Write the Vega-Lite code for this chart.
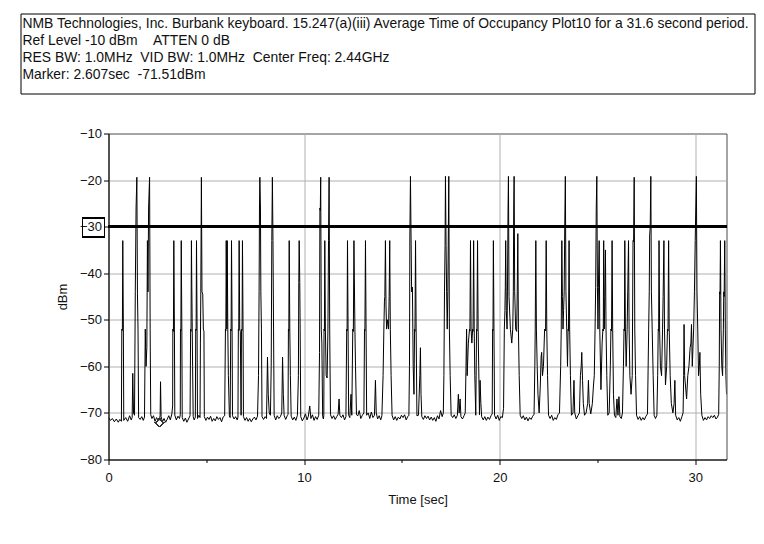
{
 "$schema": "https://vega.github.io/schema/vega-lite/v6.json",
 "background": "white",
 "padding": {"left": 19.5, "top": 12.5, "right": 0, "bottom": 0},
 "config": {
  "font": "Liberation Sans",
  "view": {"stroke": null},
  "axis": {"labelFont": "Liberation Sans", "titleFont": "Liberation Sans", "labelFontSize": 13, "titleFontSize": 13, "titleFontWeight": "normal", "labelColor": "#111", "titleColor": "#111", "domainColor": "#000", "tickColor": "#000", "gridColor": "#b0b0b0", "gridWidth": 1}
 },
 "vconcat": [
  {
   "width": 734,
   "height": 80,
   "view": {"stroke": "black", "strokeWidth": 1},
   "data": {"values": [
    {"line": 1, "text": "NMB Technologies, Inc. Burbank keyboard. 15.247(a)(iii) Average Time of Occupancy Plot10 for a 31.6 second period."},
    {"line": 2, "text": "Ref Level -10 dBm\u00a0\u00a0\u00a0\u00a0ATTEN 0 dB"},
    {"line": 3, "text": "RES BW: 1.0MHz\u00a0\u00a0VID BW: 1.0MHz\u00a0\u00a0Center Freq: 2.44GHz"},
    {"line": 4, "text": "Marker: 2.607sec\u00a0\u00a0-71.51dBm"}
   ]},
   "mark": {"type": "text", "align": "left", "baseline": "middle", "fontSize": 13.9, "color": "#111", "dx": 2},
   "encoding": {
    "x": {"datum": 0, "type": "quantitative", "scale": {"domain": [0, 1]}, "axis": null},
    "y": {"field": "line", "type": "quantitative", "scale": {"domain": [0.382, 5.088], "reverse": true, "nice": false, "zero": false}, "axis": null},
    "text": {"field": "text"}
   }
  },
  {
   "hconcat": [
    {
     "width": 20,
     "height": 1,
     "data": {"values": []},
     "mark": "point"
    },
    {
   "width": 618,
   "height": 326,
   "view": {"stroke": "#4a4a4a", "strokeWidth": 1},
   "data": {"values": [
{"t":0.00,"v":-71.0},{"t":0.10,"v":-71.6},{"t":0.20,"v":-71.2},{"t":0.30,"v":-71.9},{"t":0.40,"v":-71.3},{"t":0.50,"v":-72.0},{"t":0.58,"v":-71.4},{"t":0.66,"v":-71.8},{"t":0.68,"v":-52.0},{"t":0.71,"v":-52.3},{"t":0.73,"v":-33.0},{"t":0.76,"v":-52.0},{"t":0.78,"v":-71.6},{"t":0.88,"v":-71.0},{"t":0.98,"v":-71.8},{"t":1.08,"v":-70.6},{"t":1.16,"v":-71.5},{"t":1.21,"v":-71.0},{"t":1.24,"v":-61.5},{"t":1.28,"v":-70.0},{"t":1.33,"v":-70.5},{"t":1.37,"v":-44.0},{"t":1.41,"v":-26.0},{"t":1.45,"v":-19.4},{"t":1.48,"v":-44.3},{"t":1.51,"v":-52.0},{"t":1.54,"v":-71.0},{"t":1.62,"v":-71.4},{"t":1.70,"v":-70.8},{"t":1.78,"v":-71.6},{"t":1.84,"v":-70.9},{"t":1.88,"v":-52.0},{"t":1.92,"v":-60.0},{"t":1.96,"v":-56.0},{"t":1.99,"v":-33.0},{"t":2.02,"v":-44.0},{"t":2.05,"v":-26.0},{"t":2.10,"v":-19.4},{"t":2.13,"v":-52.0},{"t":2.16,"v":-70.4},{"t":2.22,"v":-71.2},{"t":2.30,"v":-70.6},{"t":2.38,"v":-71.8},{"t":2.46,"v":-71.0},{"t":2.54,"v":-71.6},{"t":2.607,"v":-71.51},{"t":2.64,"v":-70.5},{"t":2.66,"v":-63.3},{"t":2.69,"v":-70.8},{"t":2.76,"v":-71.9},{"t":2.84,"v":-71.2},{"t":2.92,"v":-72.0},{"t":3.00,"v":-71.4},{"t":3.08,"v":-70.6},{"t":3.16,"v":-71.5},{"t":3.24,"v":-70.2},{"t":3.28,"v":-68.5},{"t":3.29,"v":-52.0},{"t":3.32,"v":-52.5},{"t":3.34,"v":-33.0},{"t":3.37,"v":-52.0},{"t":3.39,"v":-70.5},{"t":3.47,"v":-71.5},{"t":3.55,"v":-70.7},{"t":3.63,"v":-71.2},{"t":3.67,"v":-70.4},{"t":3.68,"v":-52.0},{"t":3.70,"v":-52.4},{"t":3.72,"v":-33.0},{"t":3.75,"v":-52.0},{"t":3.77,"v":-71.0},{"t":3.85,"v":-71.8},{"t":3.93,"v":-71.1},{"t":4.01,"v":-72.0},{"t":4.09,"v":-71.3},{"t":4.17,"v":-70.6},{"t":4.20,"v":-52.0},{"t":4.22,"v":-52.5},{"t":4.24,"v":-33.0},{"t":4.26,"v":-43.0},{"t":4.30,"v":-60.0},{"t":4.33,"v":-70.8},{"t":4.38,"v":-71.5},{"t":4.44,"v":-70.9},{"t":4.46,"v":-52.0},{"t":4.48,"v":-52.3},{"t":4.50,"v":-33.0},{"t":4.53,"v":-52.0},{"t":4.55,"v":-71.2},{"t":4.62,"v":-70.5},{"t":4.68,"v":-71.0},{"t":4.70,"v":-55.0},{"t":4.72,"v":-44.0},{"t":4.75,"v":-19.4},{"t":4.78,"v":-44.0},{"t":4.82,"v":-44.5},{"t":4.85,"v":-52.0},{"t":4.88,"v":-52.5},{"t":4.90,"v":-70.8},{"t":4.98,"v":-71.6},{"t":5.06,"v":-70.9},{"t":5.14,"v":-71.4},{"t":5.22,"v":-70.7},{"t":5.30,"v":-71.8},{"t":5.38,"v":-71.2},{"t":5.46,"v":-71.7},{"t":5.54,"v":-70.8},{"t":5.62,"v":-71.4},{"t":5.70,"v":-71.0},{"t":5.78,"v":-71.9},{"t":5.86,"v":-70.9},{"t":5.94,"v":-70.6},{"t":5.98,"v":-52.0},{"t":6.00,"v":-52.4},{"t":6.02,"v":-33.0},{"t":6.05,"v":-52.0},{"t":6.07,"v":-33.0},{"t":6.10,"v":-52.0},{"t":6.13,"v":-62.0},{"t":6.18,"v":-70.6},{"t":6.22,"v":-71.0},{"t":6.25,"v":-52.0},{"t":6.27,"v":-52.4},{"t":6.29,"v":-33.0},{"t":6.32,"v":-52.0},{"t":6.34,"v":-70.6},{"t":6.42,"v":-71.3},{"t":6.50,"v":-70.8},{"t":6.58,"v":-71.5},{"t":6.62,"v":-70.9},{"t":6.64,"v":-52.0},{"t":6.66,"v":-52.3},{"t":6.68,"v":-33.0},{"t":6.71,"v":-52.0},{"t":6.74,"v":-52.5},{"t":6.78,"v":-70.5},{"t":6.80,"v":-52.0},{"t":6.83,"v":-52.3},{"t":6.85,"v":-33.0},{"t":6.88,"v":-52.0},{"t":6.90,"v":-70.8},{"t":6.98,"v":-71.6},{"t":7.06,"v":-71.0},{"t":7.14,"v":-71.8},{"t":7.22,"v":-71.2},{"t":7.30,"v":-71.9},{"t":7.38,"v":-71.3},{"t":7.46,"v":-70.9},{"t":7.54,"v":-71.5},{"t":7.62,"v":-70.7},{"t":7.67,"v":-62.0},{"t":7.70,"v":-44.0},{"t":7.72,"v":-26.0},{"t":7.74,"v":-19.4},{"t":7.77,"v":-26.0},{"t":7.79,"v":-44.0},{"t":7.82,"v":-52.0},{"t":7.85,"v":-70.8},{"t":7.93,"v":-71.4},{"t":8.01,"v":-70.8},{"t":8.08,"v":-71.2},{"t":8.13,"v":-58.0},{"t":8.17,"v":-66.0},{"t":8.22,"v":-70.0},{"t":8.28,"v":-70.5},{"t":8.32,"v":-60.0},{"t":8.35,"v":-33.0},{"t":8.38,"v":-19.4},{"t":8.41,"v":-33.0},{"t":8.44,"v":-52.0},{"t":8.47,"v":-70.5},{"t":8.55,"v":-71.5},{"t":8.63,"v":-70.6},{"t":8.71,"v":-71.2},{"t":8.79,"v":-70.8},{"t":8.86,"v":-70.0},{"t":8.90,"v":-58.0},{"t":8.94,"v":-66.0},{"t":8.98,"v":-70.5},{"t":9.06,"v":-71.4},{"t":9.14,"v":-70.6},{"t":9.18,"v":-70.3},{"t":9.20,"v":-52.0},{"t":9.22,"v":-52.4},{"t":9.24,"v":-33.0},{"t":9.27,"v":-52.0},{"t":9.30,"v":-62.0},{"t":9.34,"v":-70.7},{"t":9.42,"v":-71.5},{"t":9.50,"v":-70.9},{"t":9.58,"v":-71.6},{"t":9.66,"v":-70.5},{"t":9.71,"v":-62.0},{"t":9.73,"v":-42.0},{"t":9.75,"v":-33.0},{"t":9.78,"v":-42.0},{"t":9.80,"v":-52.0},{"t":9.83,"v":-70.8},{"t":9.91,"v":-71.7},{"t":9.99,"v":-71.1},{"t":10.07,"v":-70.2},{"t":10.15,"v":-71.5},{"t":10.22,"v":-70.7},{"t":10.29,"v":-68.5},{"t":10.35,"v":-71.2},{"t":10.43,"v":-70.4},{"t":10.51,"v":-71.6},{"t":10.59,"v":-70.8},{"t":10.67,"v":-71.4},{"t":10.75,"v":-70.5},{"t":10.79,"v":-57.0},{"t":10.81,"v":-26.0},{"t":10.83,"v":-26.5},{"t":10.85,"v":-19.4},{"t":10.88,"v":-52.0},{"t":10.91,"v":-55.0},{"t":10.95,"v":-70.8},{"t":10.99,"v":-71.3},{"t":11.01,"v":-70.5},{"t":11.02,"v":-52.0},{"t":11.04,"v":-52.4},{"t":11.06,"v":-33.0},{"t":11.09,"v":-52.0},{"t":11.13,"v":-62.0},{"t":11.18,"v":-62.5},{"t":11.22,"v":-52.0},{"t":11.25,"v":-33.0},{"t":11.28,"v":-19.4},{"t":11.31,"v":-52.0},{"t":11.35,"v":-70.4},{"t":11.43,"v":-71.2},{"t":11.51,"v":-70.6},{"t":11.59,"v":-71.4},{"t":11.67,"v":-70.8},{"t":11.74,"v":-70.3},{"t":11.79,"v":-67.0},{"t":11.83,"v":-70.5},{"t":11.91,"v":-71.0},{"t":11.99,"v":-70.4},{"t":12.07,"v":-71.5},{"t":12.14,"v":-70.8},{"t":12.18,"v":-52.0},{"t":12.20,"v":-52.4},{"t":12.22,"v":-33.0},{"t":12.25,"v":-52.0},{"t":12.28,"v":-70.5},{"t":12.34,"v":-71.0},{"t":12.40,"v":-66.0},{"t":12.44,"v":-70.5},{"t":12.49,"v":-52.0},{"t":12.52,"v":-52.5},{"t":12.55,"v":-33.0},{"t":12.60,"v":-52.0},{"t":12.63,"v":-60.0},{"t":12.68,"v":-70.4},{"t":12.75,"v":-70.6},{"t":12.82,"v":-69.5},{"t":12.90,"v":-71.2},{"t":12.98,"v":-70.5},{"t":13.06,"v":-70.0},{"t":13.09,"v":-52.0},{"t":13.11,"v":-52.4},{"t":13.14,"v":-33.0},{"t":13.17,"v":-52.0},{"t":13.20,"v":-70.5},{"t":13.28,"v":-70.0},{"t":13.36,"v":-71.2},{"t":13.44,"v":-69.8},{"t":13.52,"v":-71.0},{"t":13.60,"v":-70.5},{"t":13.65,"v":-63.0},{"t":13.69,"v":-70.0},{"t":13.76,"v":-71.3},{"t":13.84,"v":-70.6},{"t":13.92,"v":-71.5},{"t":13.98,"v":-70.6},{"t":14.04,"v":-62.0},{"t":14.08,"v":-52.0},{"t":14.11,"v":-46.0},{"t":14.13,"v":-45.0},{"t":14.16,"v":-33.0},{"t":14.19,"v":-47.0},{"t":14.22,"v":-52.0},{"t":14.27,"v":-50.0},{"t":14.32,"v":-52.0},{"t":14.35,"v":-45.0},{"t":14.38,"v":-33.0},{"t":14.41,"v":-52.0},{"t":14.45,"v":-62.0},{"t":14.50,"v":-70.5},{"t":14.58,"v":-71.5},{"t":14.66,"v":-70.8},{"t":14.74,"v":-71.6},{"t":14.82,"v":-70.9},{"t":14.90,"v":-71.3},{"t":14.98,"v":-70.5},{"t":15.06,"v":-71.0},{"t":15.14,"v":-70.4},{"t":15.22,"v":-71.5},{"t":15.30,"v":-70.8},{"t":15.36,"v":-70.5},{"t":15.39,"v":-60.0},{"t":15.41,"v":-32.0},{"t":15.44,"v":-19.2},{"t":15.47,"v":-32.0},{"t":15.50,"v":-44.0},{"t":15.54,"v":-43.0},{"t":15.58,"v":-60.0},{"t":15.62,"v":-66.0},{"t":15.65,"v":-52.0},{"t":15.67,"v":-52.5},{"t":15.70,"v":-33.0},{"t":15.73,"v":-52.0},{"t":15.77,"v":-70.6},{"t":15.85,"v":-70.5},{"t":15.92,"v":-62.0},{"t":15.95,"v":-56.0},{"t":15.98,"v":-66.0},{"t":16.02,"v":-70.8},{"t":16.10,"v":-71.4},{"t":16.18,"v":-70.6},{"t":16.26,"v":-71.2},{"t":16.34,"v":-70.7},{"t":16.42,"v":-71.5},{"t":16.50,"v":-70.9},{"t":16.58,"v":-71.6},{"t":16.66,"v":-71.0},{"t":16.74,"v":-71.8},{"t":16.82,"v":-70.6},{"t":16.90,"v":-71.3},{"t":16.98,"v":-69.5},{"t":17.06,"v":-70.8},{"t":17.12,"v":-70.0},{"t":17.15,"v":-62.0},{"t":17.18,"v":-44.0},{"t":17.21,"v":-34.0},{"t":17.23,"v":-19.2},{"t":17.26,"v":-34.0},{"t":17.29,"v":-44.0},{"t":17.32,"v":-52.0},{"t":17.35,"v":-44.0},{"t":17.38,"v":-30.0},{"t":17.40,"v":-19.2},{"t":17.43,"v":-52.0},{"t":17.47,"v":-62.0},{"t":17.52,"v":-70.5},{"t":17.60,"v":-71.0},{"t":17.68,"v":-70.4},{"t":17.76,"v":-71.2},{"t":17.84,"v":-70.5},{"t":17.89,"v":-66.0},{"t":17.93,"v":-70.0},{"t":17.98,"v":-67.0},{"t":18.02,"v":-70.8},{"t":18.10,"v":-71.3},{"t":18.18,"v":-70.6},{"t":18.24,"v":-70.0},{"t":18.28,"v":-60.0},{"t":18.31,"v":-52.0},{"t":18.34,"v":-62.0},{"t":18.40,"v":-55.0},{"t":18.46,"v":-52.0},{"t":18.48,"v":-52.4},{"t":18.51,"v":-33.0},{"t":18.54,"v":-52.0},{"t":18.58,"v":-55.0},{"t":18.62,"v":-52.0},{"t":18.64,"v":-52.5},{"t":18.67,"v":-33.0},{"t":18.70,"v":-52.0},{"t":18.73,"v":-62.0},{"t":18.78,"v":-70.5},{"t":18.82,"v":-52.0},{"t":18.84,"v":-52.4},{"t":18.87,"v":-33.0},{"t":18.90,"v":-52.0},{"t":18.93,"v":-60.0},{"t":18.97,"v":-70.4},{"t":19.00,"v":-63.0},{"t":19.04,"v":-68.0},{"t":19.08,"v":-70.8},{"t":19.16,"v":-71.5},{"t":19.24,"v":-70.8},{"t":19.32,"v":-71.6},{"t":19.40,"v":-70.9},{"t":19.48,"v":-71.4},{"t":19.56,"v":-70.6},{"t":19.62,"v":-70.2},{"t":19.64,"v":-52.0},{"t":19.66,"v":-52.4},{"t":19.68,"v":-33.0},{"t":19.71,"v":-52.0},{"t":19.74,"v":-70.5},{"t":19.82,"v":-71.3},{"t":19.90,"v":-70.5},{"t":19.98,"v":-71.6},{"t":20.06,"v":-70.8},{"t":20.14,"v":-71.0},{"t":20.20,"v":-69.0},{"t":20.24,"v":-52.0},{"t":20.27,"v":-48.0},{"t":20.29,"v":-43.0},{"t":20.31,"v":-33.0},{"t":20.34,"v":-48.0},{"t":20.38,"v":-52.0},{"t":20.40,"v":-44.0},{"t":20.43,"v":-26.0},{"t":20.45,"v":-19.2},{"t":20.48,"v":-45.0},{"t":20.55,"v":-52.0},{"t":20.62,"v":-55.0},{"t":20.67,"v":-52.0},{"t":20.70,"v":-44.0},{"t":20.72,"v":-26.0},{"t":20.74,"v":-19.2},{"t":20.77,"v":-44.0},{"t":20.82,"v":-52.0},{"t":20.87,"v":-52.5},{"t":20.90,"v":-44.0},{"t":20.93,"v":-31.5},{"t":20.96,"v":-52.0},{"t":21.00,"v":-62.0},{"t":21.05,"v":-70.5},{"t":21.13,"v":-71.2},{"t":21.21,"v":-70.6},{"t":21.29,"v":-71.5},{"t":21.37,"v":-70.9},{"t":21.45,"v":-71.7},{"t":21.53,"v":-71.0},{"t":21.61,"v":-71.4},{"t":21.69,"v":-70.7},{"t":21.76,"v":-70.3},{"t":21.80,"v":-60.0},{"t":21.82,"v":-52.0},{"t":21.85,"v":-33.0},{"t":21.88,"v":-52.0},{"t":21.92,"v":-60.0},{"t":21.96,"v":-66.0},{"t":22.02,"v":-70.0},{"t":22.08,"v":-64.0},{"t":22.12,"v":-58.0},{"t":22.15,"v":-57.0},{"t":22.19,"v":-62.0},{"t":22.24,"v":-60.0},{"t":22.30,"v":-52.0},{"t":22.35,"v":-52.4},{"t":22.38,"v":-33.0},{"t":22.41,"v":-52.0},{"t":22.45,"v":-62.0},{"t":22.50,"v":-70.5},{"t":22.58,"v":-71.2},{"t":22.66,"v":-70.5},{"t":22.74,"v":-71.6},{"t":22.82,"v":-71.0},{"t":22.90,"v":-71.4},{"t":22.98,"v":-70.4},{"t":23.06,"v":-70.0},{"t":23.12,"v":-60.0},{"t":23.15,"v":-52.0},{"t":23.18,"v":-33.0},{"t":23.21,"v":-45.0},{"t":23.24,"v":-52.0},{"t":23.27,"v":-48.0},{"t":23.30,"v":-44.0},{"t":23.33,"v":-30.0},{"t":23.36,"v":-19.2},{"t":23.39,"v":-44.0},{"t":23.43,"v":-52.0},{"t":23.47,"v":-60.0},{"t":23.50,"v":-52.0},{"t":23.52,"v":-52.4},{"t":23.55,"v":-33.0},{"t":23.58,"v":-52.0},{"t":23.62,"v":-62.0},{"t":23.67,"v":-70.5},{"t":23.75,"v":-70.0},{"t":23.80,"v":-63.0},{"t":23.84,"v":-70.0},{"t":23.92,"v":-71.3},{"t":24.00,"v":-70.6},{"t":24.08,"v":-70.0},{"t":24.13,"v":-62.0},{"t":24.17,"v":-60.0},{"t":24.20,"v":-57.0},{"t":24.24,"v":-63.0},{"t":24.28,"v":-68.0},{"t":24.34,"v":-70.5},{"t":24.42,"v":-70.0},{"t":24.50,"v":-68.0},{"t":24.54,"v":-63.0},{"t":24.58,"v":-68.0},{"t":24.66,"v":-70.2},{"t":24.74,"v":-68.0},{"t":24.80,"v":-64.0},{"t":24.84,"v":-62.0},{"t":24.88,"v":-52.0},{"t":24.91,"v":-43.0},{"t":24.94,"v":-26.0},{"t":24.97,"v":-19.2},{"t":25.00,"v":-43.0},{"t":25.03,"v":-52.0},{"t":25.05,"v":-43.0},{"t":25.09,"v":-33.0},{"t":25.12,"v":-52.0},{"t":25.18,"v":-65.0},{"t":25.24,"v":-55.0},{"t":25.28,"v":-52.0},{"t":25.30,"v":-52.4},{"t":25.32,"v":-33.0},{"t":25.35,"v":-52.0},{"t":25.38,"v":-45.0},{"t":25.41,"v":-35.0},{"t":25.44,"v":-52.0},{"t":25.48,"v":-62.0},{"t":25.53,"v":-70.5},{"t":25.60,"v":-70.0},{"t":25.66,"v":-60.0},{"t":25.69,"v":-52.0},{"t":25.72,"v":-52.4},{"t":25.75,"v":-33.0},{"t":25.78,"v":-52.0},{"t":25.82,"v":-66.0},{"t":25.87,"v":-70.5},{"t":25.94,"v":-71.0},{"t":26.00,"v":-67.0},{"t":26.05,"v":-70.5},{"t":26.10,"v":-66.5},{"t":26.15,"v":-70.8},{"t":26.22,"v":-71.2},{"t":26.28,"v":-70.0},{"t":26.33,"v":-60.0},{"t":26.36,"v":-52.0},{"t":26.38,"v":-52.4},{"t":26.40,"v":-33.0},{"t":26.43,"v":-52.0},{"t":26.47,"v":-60.0},{"t":26.52,"v":-52.0},{"t":26.55,"v":-44.0},{"t":26.59,"v":-33.0},{"t":26.62,"v":-52.0},{"t":26.66,"v":-62.0},{"t":26.72,"v":-66.0},{"t":26.78,"v":-62.0},{"t":26.82,"v":-33.0},{"t":26.85,"v":-33.2},{"t":26.88,"v":-19.4},{"t":26.91,"v":-52.0},{"t":26.95,"v":-62.0},{"t":27.00,"v":-70.5},{"t":27.08,"v":-71.4},{"t":27.16,"v":-70.8},{"t":27.24,"v":-71.6},{"t":27.32,"v":-71.0},{"t":27.40,"v":-71.5},{"t":27.48,"v":-70.7},{"t":27.56,"v":-70.2},{"t":27.62,"v":-52.0},{"t":27.65,"v":-44.0},{"t":27.67,"v":-32.0},{"t":27.70,"v":-30.0},{"t":27.73,"v":-19.2},{"t":27.76,"v":-44.0},{"t":27.80,"v":-52.0},{"t":27.85,"v":-62.0},{"t":27.90,"v":-70.5},{"t":27.97,"v":-71.2},{"t":28.04,"v":-70.5},{"t":28.08,"v":-62.0},{"t":28.11,"v":-52.0},{"t":28.13,"v":-52.4},{"t":28.15,"v":-33.0},{"t":28.18,"v":-52.0},{"t":28.22,"v":-60.0},{"t":28.28,"v":-62.0},{"t":28.33,"v":-52.0},{"t":28.36,"v":-45.0},{"t":28.40,"v":-33.0},{"t":28.43,"v":-52.0},{"t":28.48,"v":-64.0},{"t":28.54,"v":-60.0},{"t":28.58,"v":-52.0},{"t":28.61,"v":-52.4},{"t":28.64,"v":-33.0},{"t":28.67,"v":-52.0},{"t":28.72,"v":-62.0},{"t":28.78,"v":-68.0},{"t":28.86,"v":-70.0},{"t":28.92,"v":-68.0},{"t":28.96,"v":-63.0},{"t":29.00,"v":-70.5},{"t":29.08,"v":-71.5},{"t":29.16,"v":-71.0},{"t":29.24,"v":-71.8},{"t":29.32,"v":-70.8},{"t":29.38,"v":-70.0},{"t":29.41,"v":-62.0},{"t":29.43,"v":-51.0},{"t":29.46,"v":-62.0},{"t":29.50,"v":-64.0},{"t":29.56,"v":-67.0},{"t":29.62,"v":-62.0},{"t":29.68,"v":-60.0},{"t":29.74,"v":-56.0},{"t":29.78,"v":-55.0},{"t":29.81,"v":-51.0},{"t":29.85,"v":-60.0},{"t":29.92,"v":-52.0},{"t":29.96,"v":-44.0},{"t":30.00,"v":-33.0},{"t":30.03,"v":-26.0},{"t":30.06,"v":-19.2},{"t":30.09,"v":-44.0},{"t":30.13,"v":-52.0},{"t":30.17,"v":-62.0},{"t":30.21,"v":-60.0},{"t":30.24,"v":-57.0},{"t":30.28,"v":-66.0},{"t":30.34,"v":-70.5},{"t":30.42,"v":-71.6},{"t":30.50,"v":-71.0},{"t":30.58,"v":-71.5},{"t":30.66,"v":-70.8},{"t":30.74,"v":-71.2},{"t":30.82,"v":-70.6},{"t":30.90,"v":-71.0},{"t":30.98,"v":-70.5},{"t":31.06,"v":-71.3},{"t":31.14,"v":-70.9},{"t":31.20,"v":-70.3},{"t":31.23,"v":-60.0},{"t":31.25,"v":-44.0},{"t":31.27,"v":-44.5},{"t":31.29,"v":-33.0},{"t":31.32,"v":-52.0},{"t":31.36,"v":-60.0},{"t":31.40,"v":-62.0},{"t":31.44,"v":-52.0},{"t":31.46,"v":-44.0},{"t":31.48,"v":-45.0},{"t":31.51,"v":-33.0},{"t":31.54,"v":-52.0},{"t":31.57,"v":-62.0},{"t":31.60,"v":-66.0}
   ]},
   "layer": [
    {
     "mark": {"type": "line", "color": "black", "strokeWidth": 1, "clip": true},
     "encoding": {
      "x": {"field": "t", "type": "quantitative", "scale": {"domain": [0, 31.6], "nice": false, "zero": false},
       "axis": {"title": "Time [sec]", "values": [0, 5, 10, 15, 20, 25, 30], "labelExpr": "datum.value % 10 === 0 ? datum.label : ''", "labelFlush": false, "labelPadding": 7, "titlePadding": 9,
        "grid": true, "gridOpacity": {"condition": {"test": "datum.value % 10 === 0 && datum.value > 0", "value": 1}, "value": 0},
        "tickSize": {"condition": {"test": "datum.value % 10 === 0", "value": 5}, "value": 3}}},
      "y": {"field": "v", "type": "quantitative", "scale": {"domain": [-80, -10], "nice": false, "zero": false},
       "axis": {"title": "dBm", "titlePadding": 10, "values": [-80, -75, -70, -65, -60, -55, -50, -45, -40, -35, -30, -25, -20, -15, -10], "labelExpr": "datum.value % 10 === 0 ? datum.label : ''", "labelPadding": 2,
        "grid": true, "gridOpacity": {"condition": {"test": "datum.value % 10 === 0 && datum.value > -80 && datum.value < -10", "value": 1}, "value": 0},
        "tickSize": {"condition": {"test": "datum.value % 10 === 0", "value": 5}, "value": 3}}}
     }
    },
    {
     "mark": {"type": "rule", "color": "black", "strokeWidth": 2.5},
     "encoding": {"y": {"datum": -30}}
    },
    {
     "mark": {"type": "point", "shape": "diamond", "filled": false, "color": "#333", "size": 64, "strokeWidth": 1, "yOffset": 3},
     "encoding": {"x": {"datum": 2.607}, "y": {"datum": -71.51}}
    },
    {
     "mark": {"type": "point", "shape": "M-1,-0.86H1V0.86H-1Z", "filled": false, "color": "black", "size": 484, "strokeWidth": 1, "xOffset": -15, "yOffset": 1, "opacity": 1},
     "encoding": {"x": {"datum": 0}, "y": {"datum": -30}}
    }
   ]
    }
   ],
   "spacing": 15
  }
 ],
 "spacing": 32
}
